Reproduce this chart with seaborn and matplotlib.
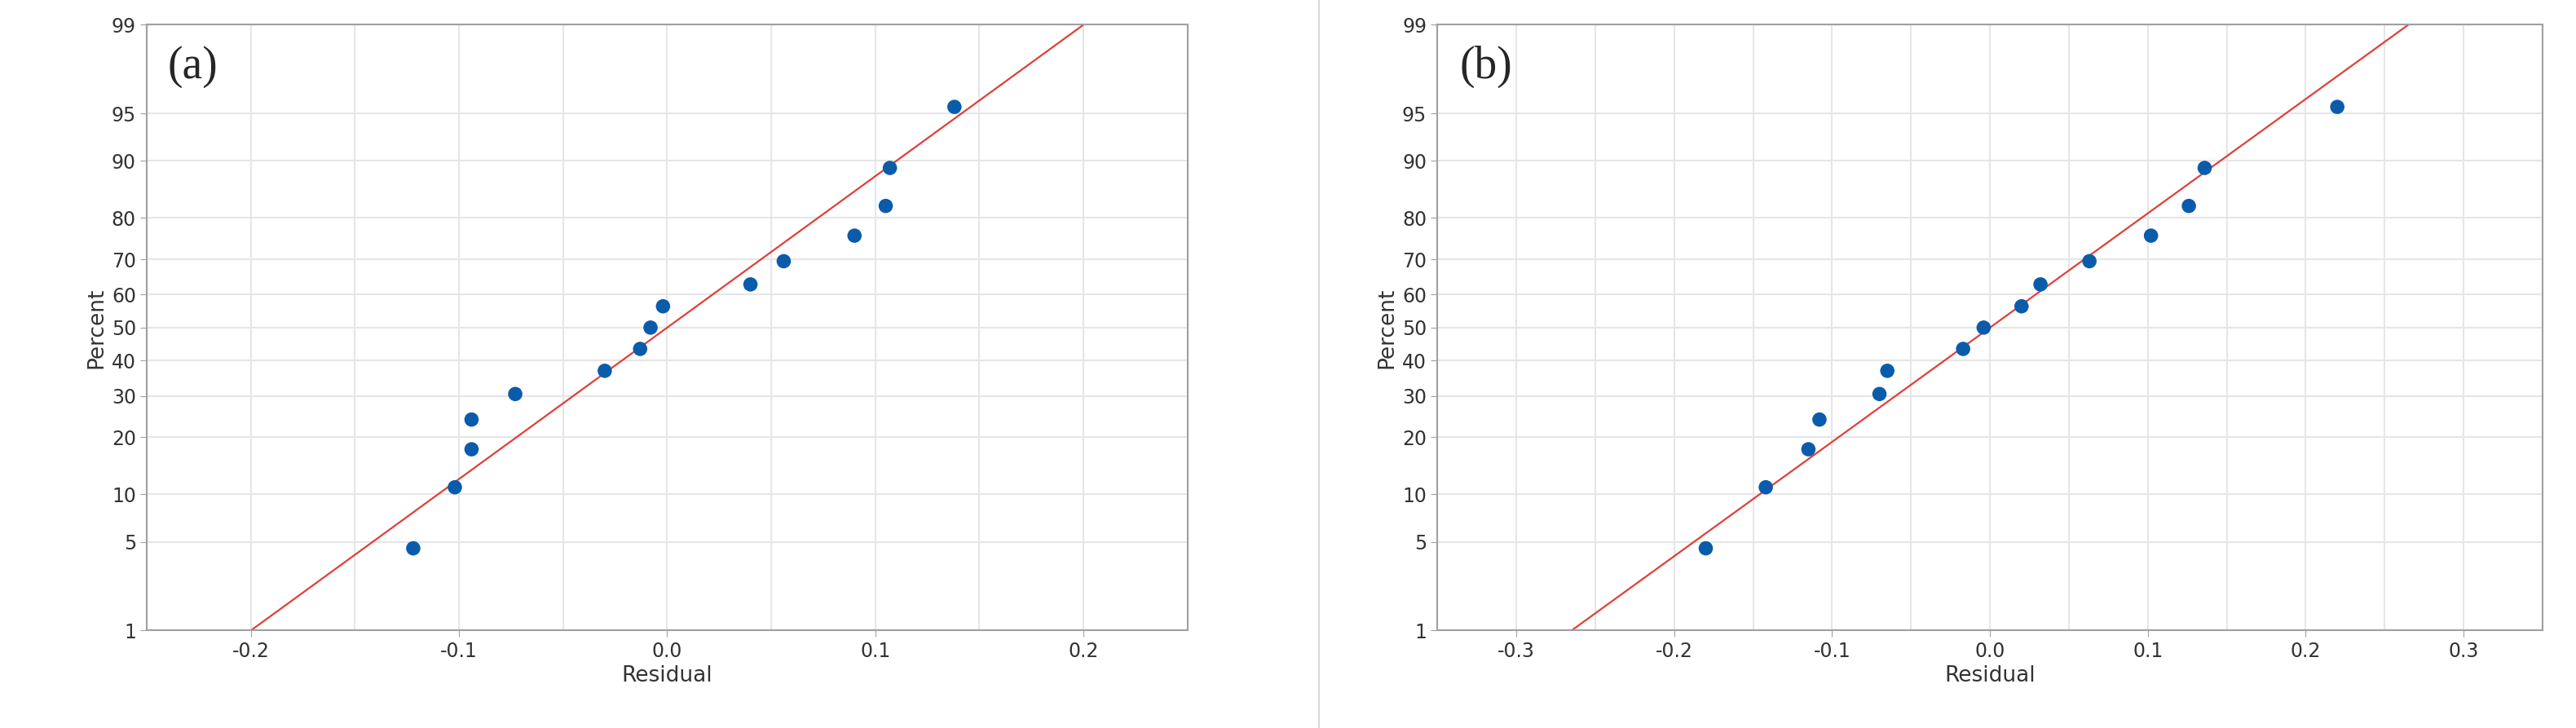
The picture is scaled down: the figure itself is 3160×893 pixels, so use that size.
import numpy as np
import matplotlib
matplotlib.use("Agg")
import matplotlib.pyplot as plt
import seaborn as sns
from statistics import NormalDist

percent = [4.5, 11.0, 17.5, 24.0, 30.5, 37.0, 43.5, 50.0, 56.5, 63.0, 69.5, 76.0, 82.5, 89.0, 95.5]
resid_a = [-0.122, -0.102, -0.094, -0.094, -0.073, -0.030, -0.013, -0.008, -0.002, 0.040, 0.056, 0.090, 0.105, 0.107, 0.138]
resid_b = [-0.180, -0.142, -0.115, -0.108, -0.070, -0.065, -0.017, -0.004, 0.020, 0.032, 0.063, 0.102, 0.126, 0.136, 0.220]
fit_a = ([-0.2, 0.2], [1, 99])
fit_b = ([-0.265, 0.265], [1, 99])
yticks = [1, 5, 10, 20, 30, 40, 50, 60, 70, 80, 90, 95, 99]
xticks_a = [-0.2, -0.1, 0.0, 0.1, 0.2]
xticks_b = [-0.3, -0.2, -0.1, 0.0, 0.1, 0.2, 0.3]

nd = NormalDist()
_ppf = np.vectorize(nd.inv_cdf, otypes=[float])
_cdf = np.vectorize(nd.cdf, otypes=[float])
def fwd(p):
    p = np.clip(np.asarray(p, float), 0.01, 99.99) / 100
    return _ppf(p)
def inv(z):
    return _cdf(np.asarray(z, float)) * 100

sns.set_style("white")
fig = plt.figure(figsize=(31.6, 8.93), dpi=100)
ax1 = fig.add_axes([0.057, 0.134, 0.404, 0.832])
ax2 = fig.add_axes([0.558, 0.134, 0.429, 0.832])
fig.add_artist(plt.Line2D([0.512, 0.512], [0, 1], color="#d8d8d8", lw=1.5))

for ax, r, fit, xt, xl, lab in [
    (ax1, resid_a, fit_a, xticks_a, (-0.221, 0.226), "(a)"),
    (ax2, resid_b, fit_b, xticks_b, (-0.3045, 0.31), "(b)")]:
    ax.set_yscale("function", functions=(fwd, inv))
    sns.lineplot(x=fit[0], y=fit[1], ax=ax, color="#e0403a", lw=1.6)
    sns.scatterplot(x=r, y=percent, ax=ax, color="#0a5cab", s=160, edgecolor="none", zorder=3)
    ax.set_ylim(1, 99)
    ax.set_xlim(*xl)
    ax.set_yticks(yticks)
    ax.set_yticklabels([str(t) for t in yticks])
    ax.set_xticks(xt)
    ax.set_xticklabels([f"{t:.1f}" for t in xt])
    ax.set_xticks(np.arange(xt[0] - 0.05, xt[-1] + 0.06, 0.1), minor=True)
    ax.set_yticks([], minor=True)
    ax.grid(True, which="both", color="#e6e6e6", lw=1.5)
    ax.set_axisbelow(True)
    for s in ax.spines.values():
        s.set_color("#a0a0a0"); s.set_linewidth(1.5)
    ax.tick_params(axis="both", which="major", labelsize=17, colors="#333333", length=6, color="#a0a0a0", left=True, bottom=True)
    ax.tick_params(axis="x", which="minor", length=0)
    ax.set_xlabel("Residual", fontsize=19, color="#333333")
    ax.set_ylabel("Percent", fontsize=19, color="#333333")
    ax.text(0.02, 0.93, lab, transform=ax.transAxes, fontsize=40, family="Liberation Serif", va="center")

fig.savefig("out.png", dpi=100)
